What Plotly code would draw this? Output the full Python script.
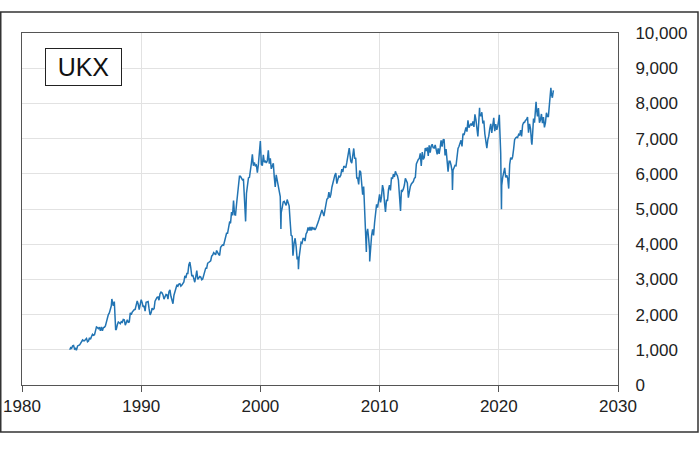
import pandas as pd
import plotly.graph_objects as go

# Monthly closes, starting Jan of each block
m1984 = [1060,1040,1110,1120,1020,1040,1010,1110,1120,1140,1180,1232,
         1280,1260,1260,1290,1320,1230,1250,1340,1300,1380,1440,1413,
         1430,1530,1650,1630,1600,1640,1540,1650,1540,1630,1640,1679,
         1810,1960,2000,2050,2200,2250,2320,2250,2370,1750,1580,1712,
         1790,1770,1740,1800,1780,1860,1850,1700,1820,1850,1780,1793,
         2050,2000,2070,2120,2140,2150,2300,2390,2300,2140,2280,2423]
m1990 = [2340,2220,2250,2100,2350,2370,2370,2160,1990,2050,2180,2144,
         2170,2380,2460,2490,2500,2410,2590,2640,2620,2560,2440,2493,
         2570,2560,2440,2650,2700,2520,2400,2310,2550,2660,2780,2847,
         2810,2870,2880,2810,2840,2900,2930,3100,3040,3170,3170,3418,
         3490,3330,3090,3130,2970,2920,3080,3250,3000,3050,3080,3066,
         2990,3010,3140,3210,3320,3320,3460,3480,3510,3530,3660,3689,
         3760,3730,3700,3820,3750,3710,3680,3910,3950,3980,3970,4119,
         4280,4310,4310,4440,4620,4600,4910,4820,5240,4840,4830,5136,
         5460,5770,5930,5930,5870,5830,5840,5250,5060,5440,5740,5883,
         5900,6180,6300,6550,6230,6320,6230,6250,6030,6260,6600,6930]
m2000 = [6270,6230,6540,6330,6360,6310,6370,6670,6290,6440,6140,6222,
         6300,5920,5630,5970,5800,5640,5530,5350,4900,5040,5200,5217,
         5160,5100,5270,5170,5090,4660,4250,4230,3720,4040,4170,3940,
         3570,3650,3610,3930,4050,4030,4160,4160,4090,4290,4340,4477,
         4390,4490,4390,4490,4430,4460,4410,4460,4570,4620,4700,4814,
         4850,4970,4890,4800,4960,5110,5280,5300,5480,5320,5420,5619,
         5760,5790,5960,6020,5720,5830,5930,5910,5960,6130,6050,6221,
         6200,6170,6310,6450,6620,6610,6360,6300,6470,6720,6430,6457,
         5880,5880,5700,6090,6050,5630,5410,5640,4900,4380,4290,4434,
         4150,3830,3930,4240,4420,4250,4610,4910,5130,5040,5190,5413]
m2010 = [5190,5350,5680,5550,5190,4920,5260,5230,5550,5680,5530,5900,
         5860,5990,5910,6070,5990,5950,5820,5390,5130,5540,5510,5572,
         5680,5870,5770,5740,5320,5570,5640,5710,5740,5780,5870,5898,
         6280,6360,6410,6430,6580,6220,6620,6410,6460,6730,6650,6749,
         6510,6810,6600,6780,6840,6740,6730,6820,6620,6550,6720,6566,
         6750,6950,6770,6960,6980,6520,6700,6250,6060,6360,6360,6242,
         6080,6100,6170,6240,6230,6500,6720,6780,6900,6950,6780,7143,
         7100,7260,7320,7200,7520,7310,7370,7430,7370,7490,7330,7688,
         7530,7230,7060,7510,7680,7640,7750,7430,7510,7130,6980,6728,
         6970,7070,7280,7420,7160,7430,7590,7210,7410,7250,7350,7542]
m2020 = [7290,6580,5670,5900,6080,6170,5900,5960,5870,5580,6270,6461,
         6410,6480,6710,6970,7020,7040,7030,7120,7090,7240,7060,7385,
         7460,7460,7520,7540,7610,7170,7420,7280,6890,7090,7570,7452,
         7770,7880,7630,7870,7450,7530,7700,7440,7610,7320,7450,7733,
         7630,7630,7950,8140,8280,8160,8370]

# Intra-month extremes visible in the chart
ext_dates = ["1984-01-03","1984-07-23","1987-07-16","1987-11-10","1998-10-05",
             "1999-12-30","2001-09-21","2002-09-24","2003-03-12","2007-06-15",
             "2008-11-21","2009-03-03","2011-10-04","2016-02-11","2018-05-22",
             "2020-01-17","2020-03-23","2022-10-12","2023-02-16","2024-05-15"]
ext_vals = [1000,986,2443,1565,4648,6930,4434,3671,3287,6732,
            3781,3512,4944,5537,7877,7675,4994,6830,8047,8445]

blocks = [("1984-01", m1984), ("1990-01", m1990), ("2000-01", m2000),
          ("2010-01", m2010), ("2020-01", m2020)]
frames = []
for start, vals in blocks:
    d = pd.date_range(start=start, periods=len(vals), freq="ME")
    frames.append(pd.DataFrame({"date": d, "v": vals}))
frames.append(pd.DataFrame({"date": pd.to_datetime(ext_dates), "v": ext_vals}))
df = pd.concat(frames).sort_values("date")

fig = go.Figure(go.Scatter(x=df["date"], y=df["v"], mode="lines",
                           line=dict(color="#2274b3", width=1.5), hoverinfo="skip"))

FAM = "Arial, Liberation Sans, sans-serif"
font = dict(family=FAM, size=17, color="#222")
fig.update_layout(
    width=700, height=450,
    margin=dict(l=22, r=82, t=33, b=65, autoexpand=False),
    paper_bgcolor="white", plot_bgcolor="white",
    showlegend=False, font=font,
    xaxis=dict(type="date", range=["1980-01-01", "2030-01-01"],
               tick0="1980-01-01", dtick="M120", tickformat="%Y",
               showgrid=True, gridcolor="#e2e2e2", gridwidth=1,
               showline=True, linecolor="#555", linewidth=1, mirror=True,
               ticks="outside", ticklen=6, tickcolor="#555", zeroline=False,
               automargin=False),
    yaxis=dict(side="right", range=[0, 10000], dtick=1000, tickformat=",d",
               showgrid=True, gridcolor="#e2e2e2", gridwidth=1,
               showline=True, linecolor="#555", linewidth=1, mirror=True,
               ticks="", ticklabelstandoff=13, zeroline=False,
               automargin=False),
    annotations=[dict(text="UKX", xref="paper", yref="paper",
                      x=(45-22)/596, y=(385-48)/352, xanchor="left", yanchor="top",
                      showarrow=False, font=dict(family=FAM, size=25, color="#111"),
                      bgcolor="white", bordercolor="#222", borderwidth=1,
                      width=73, height=34, borderpad=1)],
    shapes=[dict(type="rect", xref="paper", yref="paper",
                 x0=(0.75-22)/596, x1=(698-22)/596, y0=(385-432)/352, y1=(385-12)/352,
                 line=dict(color="#333", width=1.5), layer="above")],
)
fig.write_html("out.html")
